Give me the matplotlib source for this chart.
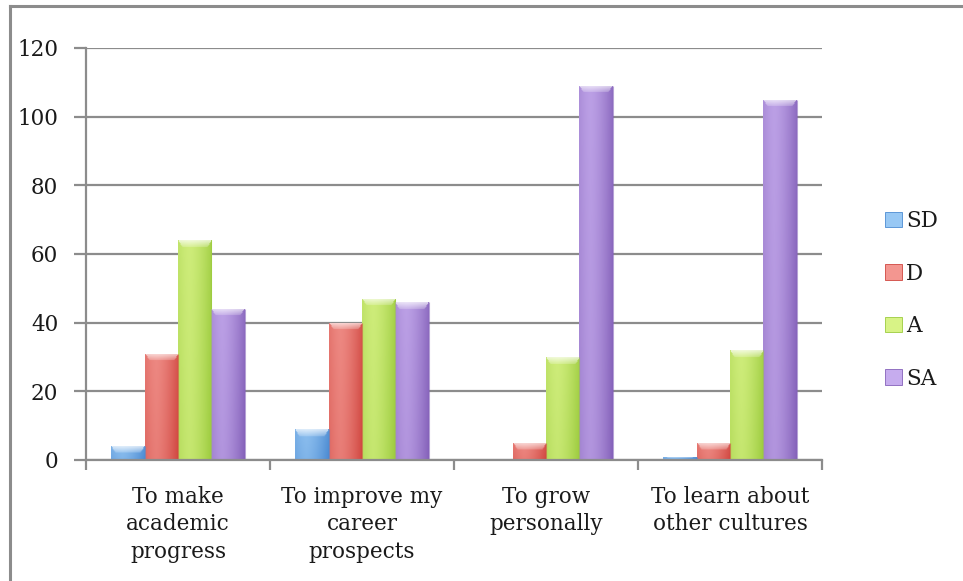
import numpy as np
import matplotlib
matplotlib.use("Agg")
import matplotlib.pyplot as plt
from matplotlib.colors import to_rgb
from matplotlib.patches import Patch
from matplotlib.lines import Line2D

# survey answers per motive
categories = ["To make\nacademic\nprogress", "To improve my\ncareer\nprospects",
              "To grow\npersonally", "To learn about\nother cultures"]
series = ["SD", "D", "A", "SA"]
sd = [4, 9, 0, 1]
d = [31, 40, 5, 5]
a = [64, 47, 30, 32]
sa = [44, 46, 109, 105]
values = [sd, d, a, sa]

# (light, dark) shade for each series
shades = [("#98C8F4", "#4C8BD2"),
          ("#F39690", "#D0463F"),
          ("#D8F386", "#9CCB3E"),
          ("#C6ACEE", "#8562BA")]

GRID = "#8C8C8C"
TEXT = "#1A1A1A"
FONT = "DejaVu Serif"

plt.rcParams["font.family"] = FONT

fig = plt.figure(figsize=(9.63, 5.81), dpi=100)
ax = fig.add_axes([86 / 963, 121 / 581, 736 / 963, 412 / 581])

n = len(series)
w = 1.0 / (n + 1.5)
x = np.arange(len(categories))
px_per_unit = 412 / 120


def shaded_bar(ax, xc, h, light, dark):
    """Bar with a soft left-to-right gradient and a lighter top bevel."""
    bar = ax.bar(xc, h, width=w, color=dark, edgecolor="none", zorder=3)[0]
    if h <= 0:
        return
    lo = np.array(to_rgb(light))
    hi = np.array(to_rgb(dark))
    cols = 40
    rows = max(int(h * px_per_unit), 2)
    u = np.linspace(0, 1, cols)
    # horizontal: bright centre-left, darker toward the right edge
    hmix = 0.2 + 0.8 * np.clip(np.abs(u - 0.33) / 0.67, 0, 1) ** 1.5
    hmix[:2] = 0.45
    v = np.linspace(0, 1, rows)[:, None]  # 0 = top
    mix = np.clip(hmix[None, :] * 0.85 + 0.15 * v, 0, 1)
    img = lo[None, None, :] * (1 - mix[..., None]) + hi[None, None, :] * mix[..., None]
    # top bevel: a light trapezoid fading down
    cap = min(7, rows // 2)
    for r in range(cap):
        inset = int(round((r + 1) / cap * cols * 0.12))
        t = 0.55 * (1 - r / cap) + 0.15
        seg = slice(inset, cols - inset) if inset > 0 else slice(0, cols)
        img[r, seg] = img[r, seg] * (1 - t) + t
    im = ax.imshow(img, extent=(xc - w / 2, xc + w / 2, 0, h), aspect="auto",
                   origin="upper", zorder=4, interpolation="bilinear")
    im.set_clip_path(bar)
    ax.plot([xc + w / 2, xc + w / 2], [0, h], color=dark, lw=0.8, zorder=5,
            alpha=0.6, solid_capstyle="butt")


for i, (vals, (light, dark)) in enumerate(zip(values, shades)):
    offs = (i - (n - 1) / 2) * w
    for xc, h in zip(x + offs, vals):
        shaded_bar(ax, xc, h, light, dark)

ax.set_xlim(-0.5, len(categories) - 0.5)
ax.set_ylim(0, 120)
ax.set_yticks(np.arange(0, 121, 20))
ax.yaxis.grid(True, color=GRID, lw=1.6, zorder=1)
ax.set_axisbelow(True)

ax.set_xticks(np.arange(-0.5, len(categories), 1.0))
ax.set_xticklabels([])
ax.set_xticks(x, minor=True)
ax.set_xticklabels(categories, minor=True, fontsize=15.5, color=TEXT,
                   linespacing=1.3)
ax.tick_params(axis="x", which="major", length=7, width=1.6, color=GRID,
               direction="out")
ax.tick_params(axis="x", which="minor", length=0, pad=19)
ax.tick_params(axis="y", length=9, width=1.6, color=GRID, labelsize=15.5,
               labelcolor=TEXT, pad=11)

for side in ("top", "right"):
    ax.spines[side].set_visible(False)
for side in ("left", "bottom"):
    ax.spines[side].set_color(GRID)
    ax.spines[side].set_linewidth(1.6)
ax.spines["bottom"].set_zorder(6)

handles = [Patch(facecolor=light, edgecolor=dark, lw=0.6) for light, dark in shades]
fig.legend(handles, series, loc="center left", bbox_to_anchor=(866 / 963, 0.484),
           frameon=False, fontsize=15.5, handlelength=0.75, handleheight=0.75,
           handletextpad=0.2, labelspacing=1.42, labelcolor=TEXT)

# chart frame
fig.add_artist(Line2D([10 / 963, 1.0], [1 - 6 / 581, 1 - 6 / 581],
                      transform=fig.transFigure, color=GRID, lw=2.2))
fig.add_artist(Line2D([10 / 963, 10 / 963], [0, 1 - 6 / 581],
                      transform=fig.transFigure, color=GRID, lw=2.2))

fig.savefig("out.png", dpi=100)
